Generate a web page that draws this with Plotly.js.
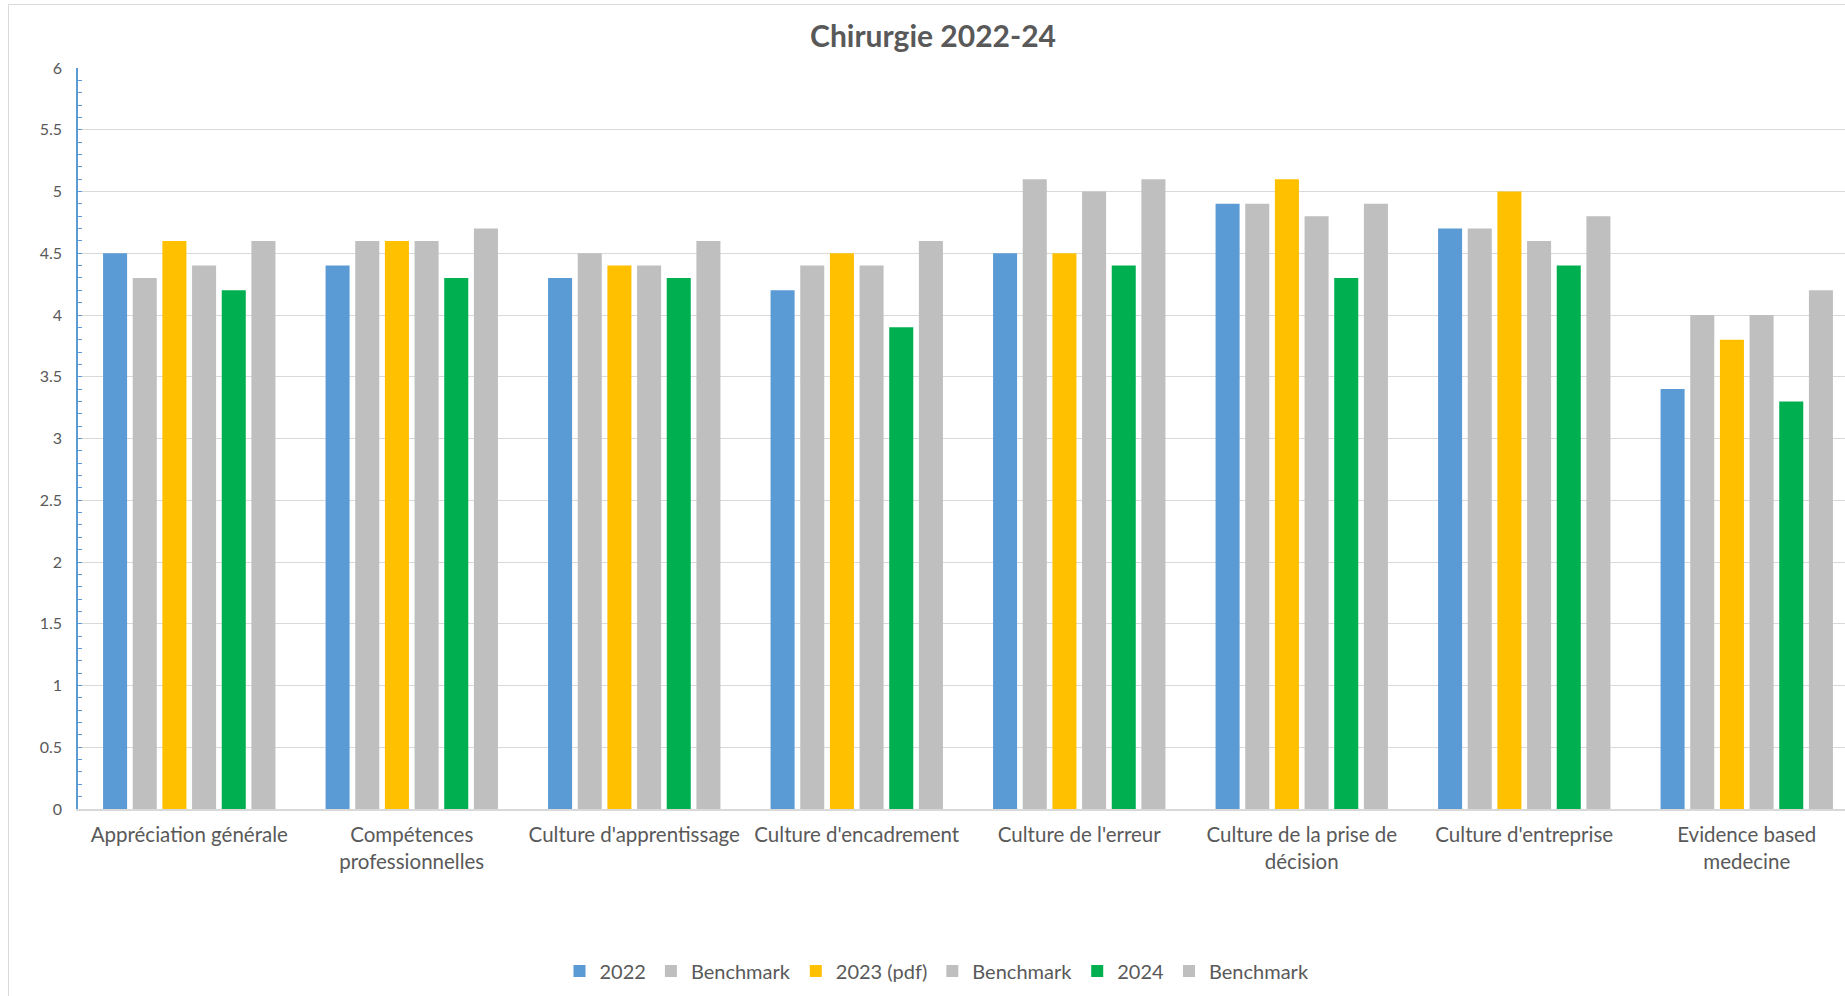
<!DOCTYPE html>
<html>
<head>
<meta charset="utf-8">
<script src="https://cdn.plot.ly/plotly-3.0.1.min.js"></script>
<style>
  html, body { margin: 0; padding: 0; overflow: hidden; background: #fff; width: 1845px; height: 996px; }
  #chart { position: absolute; left: 0; top: 0; width: 1880px; height: 996px; }
  #frame { position: absolute; left: 8px; top: 4px; width: 1900px; height: 1100px; border: 1px solid #d9d9d9; pointer-events: none; z-index: 10; }
</style>
</head>
<body>
<div id="chart"></div>
<div id="frame"></div>
<script>
const categories = [
  "Appréciation générale",
  "Compétences<br>professionnelles",
  "Culture d'apprentissage",
  "Culture d'encadrement",
  "Culture de l'erreur",
  "Culture de la prise de<br>décision",
  "Culture d'entreprise",
  "Evidence based<br>medecine"
];
const seriesNames = ["2022", "Benchmark", "2023 (pdf)", "Benchmark", "2024", "Benchmark"];
const values2022       = [4.5, 4.4, 4.3, 4.2, 4.5, 4.9, 4.7, 3.4];
const benchmark2022    = [4.3, 4.6, 4.5, 4.4, 5.1, 4.9, 4.7, 4.0];
const values2023       = [4.6, 4.6, 4.4, 4.5, 4.5, 5.1, 5.0, 3.8];
const benchmark2023    = [4.4, 4.6, 4.4, 4.4, 5.0, 4.8, 4.6, 4.0];
const values2024       = [4.2, 4.3, 4.3, 3.9, 4.4, 4.3, 4.4, 3.3];
const benchmark2024    = [4.6, 4.7, 4.6, 4.6, 5.1, 4.9, 4.8, 4.2];
const seriesValues = [values2022, benchmark2022, values2023, benchmark2023, values2024, benchmark2024];
const seriesColors = ["#5b9bd5", "#bfbfbf", "#ffc000", "#bfbfbf", "#00b050", "#bfbfbf"];

const FONT = "Lato, Carlito, Calibri, 'Open Sans', sans-serif";
const TXT = "#595959";

const traces = seriesNames.map((name, i) => ({
  type: "bar",
  name: name,
  x: categories,
  y: seriesValues[i],
  marker: { color: seriesColors[i], line: { width: 0 } },
  hoverinfo: "x+y+name"
}));

const W = 1880, H = 996;
const layout = {
  width: W,
  height: H,
  margin: { l: 78, r: 22, t: 68, b: 187 },
  paper_bgcolor: "#ffffff",
  plot_bgcolor: "#ffffff",
  barmode: "group",
  bargap: 0.2,
  bargroupgap: 0.19,
  font: { family: FONT, color: TXT },
  title: {
    text: "<b>Chirurgie 2022-24</b>",
    font: { family: FONT, size: 30, color: TXT },
    xref: "container", x: 933 / W, xanchor: "center",
    yref: "container", y: 1 - 36 / H, yanchor: "middle"
  },
  xaxis: {
    type: "category",
    showgrid: false,
    zeroline: false,
    showline: true,
    linecolor: "#d9d9d9",
    linewidth: 1.5,
    ticks: "",
    tickfont: { family: FONT, size: 20.5, color: TXT },
    ticklabelstandoff: 7
  },
  yaxis: {
    range: [0, 6],
    dtick: 0.5,
    tick0: 0,
    showgrid: true,
    gridcolor: "#d9d9d9",
    gridwidth: 1.3,
    zeroline: false,
    showline: true,
    linecolor: "#5b9bd5",
    linewidth: 1.5,
    ticks: "inside",
    ticklen: 4,
    tickwidth: 1,
    tickcolor: "#5b9bd5",
    minor: { dtick: 0.1, ticks: "inside", ticklen: 4, tickcolor: "#5b9bd5", tickwidth: 1, showgrid: false },
    tickfont: { family: FONT, size: 16, color: TXT },
    ticklabelstandoff: 11
  },
  showlegend: true,
  legend: {
    orientation: "h",
    xref: "container", x: 937 / W, xanchor: "center",
    yref: "container", y: 1 - 971 / H, yanchor: "middle",
    font: { family: FONT, size: 20, color: TXT },
    itemclick: false,
    itemdoubleclick: false,
    tracegroupgap: 0
  }
};

Plotly.newPlot("chart", traces, layout, { displayModeBar: false, staticPlot: false });
</script>
</body>
</html>
